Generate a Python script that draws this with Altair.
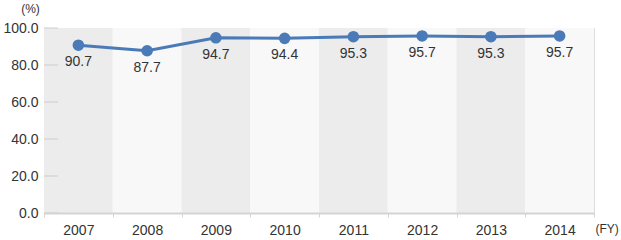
import altair as alt
import pandas as pd

years = ["2007", "2008", "2009", "2010", "2011", "2012", "2013", "2014"]
values = [90.7, 87.7, 94.7, 94.4, 95.3, 95.7, 95.3, 95.7]
y_ticks = [0, 20, 40, 60, 80, 100]

df = pd.DataFrame({"year": years, "value": values,
                   "band": ["odd" if i % 2 == 0 else "even" for i in range(len(years))],
                   "top": [100] * len(years)})
ticks_df = pd.DataFrame({"t": y_ticks})

FONT = "Liberation Sans"
LINE = "#4a7ab7"

x_axis = alt.Axis(title="(FY)", titleAngle=0, titleX=551, titleY=15,
                  titleAlign="left", titleBaseline="middle",
                  titleFontSize=12, titleFontWeight="normal", titleColor="#333333",
                  titleFont=FONT,
                  labelAngle=0, labelFontSize=14, labelColor="#333333", labelFont=FONT,
                  labelPadding=6,
                  domainColor="#d4d4d4", domainWidth=2,
                  tickBand="extent", tickColor="#d4d4d4", tickSize=4,
                  grid=False)
y_axis = alt.Axis(title="(%)", titleAngle=0, titleX=-14, titleY=-20,
                  titleAlign="center", titleBaseline="middle",
                  titleFontSize=12, titleFontWeight="normal", titleColor="#333333",
                  titleFont=FONT,
                  values=y_ticks, format=".1f", labelFontSize=14,
                  labelOverlap=False, labelBound=False, labelFlush=False,
                  labelColor="#333333", labelFont=FONT, labelPadding=6,
                  ticks=False, grid=False,
                  domainColor="#d4d4d4", domainWidth=1)

x_scale = alt.Scale(paddingInner=0, paddingOuter=0)
y_scale = alt.Scale(domain=[0, 100], nice=False)

def X():
    return alt.X("year:N", sort=years, scale=x_scale, axis=x_axis)

def Y(field):
    return alt.Y(field, scale=y_scale, axis=y_axis, title="(%)")

bands = alt.Chart(df).mark_rect().encode(
    x=X(),
    y=Y("top:Q"),
    y2=alt.datum(0),
    color=alt.Color("band:N", scale=alt.Scale(domain=["odd", "even"],
                                              range=["#ececec", "#f8f8f8"]),
                    legend=None),
)

tick_rules = alt.Chart(ticks_df).mark_rule(color="#cccccc", strokeWidth=1).encode(
    y=Y("t:Q"),
    x=alt.value(0), x2=alt.value(14),
)

line = alt.Chart(df).mark_line(color=LINE, strokeWidth=3).encode(
    x=X(), y=Y("value:Q"),
)
points = alt.Chart(df).mark_circle(color=LINE, size=135, opacity=1).encode(
    x=X(), y=Y("value:Q"),
)
labels = alt.Chart(df).mark_text(dy=17, fontSize=14, color="#333333", font=FONT).encode(
    x=X(), y=Y("value:Q"),
    text=alt.Text("value:Q", format=".1f"),
)

chart = alt.layer(bands, tick_rules, line, points, labels).properties(
    width=550, height=185,
    padding={"left": 44, "top": 28, "right": 27, "bottom": 27},
    autosize=alt.AutoSizeParams(type="none"),
).configure_view(stroke=None).configure(background="white")

chart.save("out.html", embed_options={"renderer": "svg", "actions": False})
